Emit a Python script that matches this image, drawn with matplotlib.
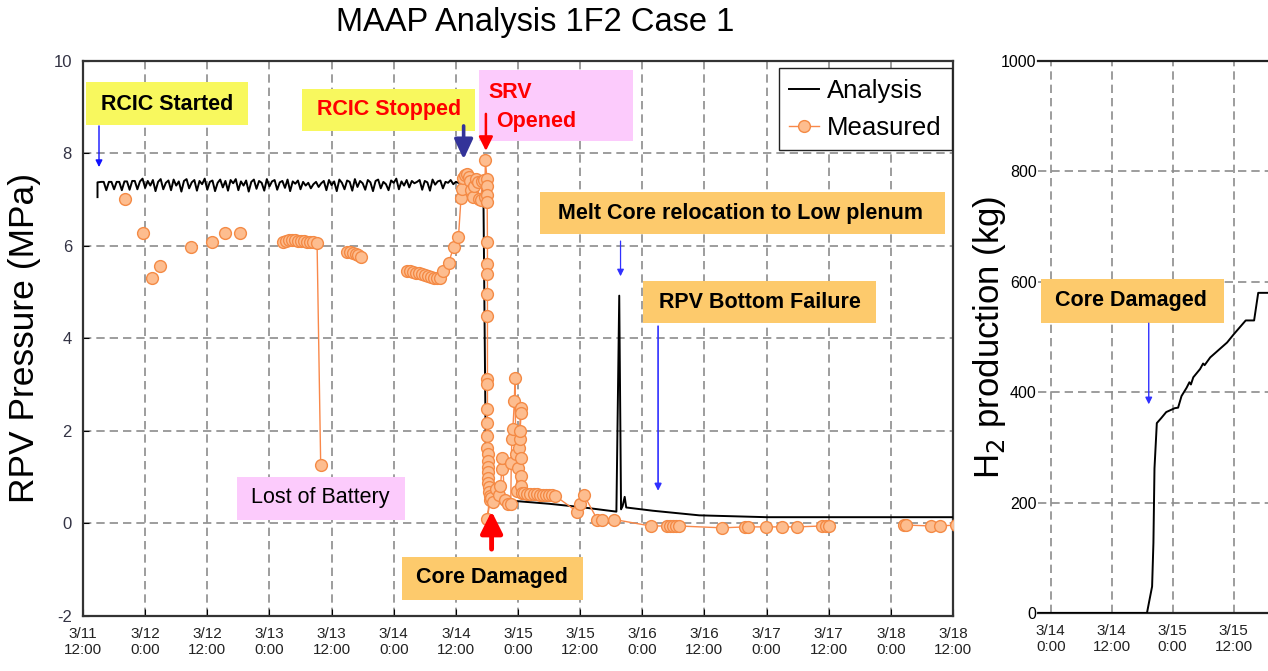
import matplotlib
matplotlib.use('Agg')
import matplotlib.pyplot as plt
import numpy as np
from matplotlib.patches import Rectangle
from matplotlib import font_manager

# ---------------- data ----------------
# main panel: hours after 3/11 12:00
main_xticks = [0, 12, 24, 36, 48, 60, 72, 84, 96, 108, 120, 132, 144, 156, 168]
main_xlabels = ['3/11\n12:00', '3/12\n0:00', '3/12\n12:00', '3/13\n0:00', '3/13\n12:00',
                '3/14\n0:00', '3/14\n12:00', '3/15\n0:00', '3/15\n12:00', '3/16\n0:00',
                '3/16\n12:00', '3/17\n0:00', '3/17\n12:00', '3/18\n0:00', '3/18\n12:00']
main_yticks = [-2, 0, 2, 4, 6, 8, 10]

# analysis: RCIC period (sampled every 0.5 h from 3.5 h)
rcic_vals = [7.38, 7.38, 7.20, 7.38, 7.38, 7.22, 7.38, 7.38, 7.20, 7.39, 7.39, 7.21, 7.40, 7.40, 7.22, 7.39,
             7.45, 7.25, 7.40, 7.30, 7.42, 7.18, 7.38, 7.44, 7.22, 7.36, 7.41, 7.20, 7.43, 7.30, 7.39, 7.17, 7.40, 7.44, 7.24, 7.37,
             7.42, 7.19, 7.40, 7.33, 7.45, 7.21, 7.38, 7.41, 7.18, 7.36, 7.43, 7.26, 7.40, 7.19, 7.42, 7.35, 7.44, 7.20, 7.39, 7.30,
             7.41, 7.17, 7.38, 7.43, 7.23, 7.40, 7.36, 7.19, 7.44, 7.28, 7.39, 7.42, 7.21, 7.37, 7.40, 7.25, 7.43, 7.18, 7.39, 7.34,
             7.41, 7.22, 7.38, 7.30, 7.36, 7.24, 7.33, 7.38, 7.27, 7.35, 7.40, 7.20, 7.42, 7.31, 7.39, 7.18, 7.43, 7.36, 7.22, 7.41,
             7.38, 7.19, 7.44, 7.27, 7.40, 7.35, 7.21, 7.42, 7.37, 7.18, 7.40, 7.43, 7.24, 7.38, 7.33, 7.20, 7.41, 7.36, 7.45, 7.22,
             7.39, 7.30, 7.42, 7.26, 7.40, 7.35, 7.38, 7.42, 7.21, 7.40, 7.37, 7.19, 7.43, 7.32, 7.39, 7.41, 7.24, 7.38, 7.36, 7.42,
             7.33, 7.38]
rcic_start_t = [2.8, 2.8]
rcic_start_v = [7.05, 7.37]
ana_tail_t = [72.5, 73.5, 75.0, 77.3, 77.8, 78.5, 80.0, 83.5, 90.0, 96.0, 103.0, 103.55, 103.9, 104.2, 104.6,
              104.9, 110.0, 119.0, 132.0, 150.0, 168.0]
ana_tail_v = [7.36, 7.38, 7.35, 7.38, 1.20, 0.70, 0.55, 0.48, 0.42, 0.35, 0.25, 4.92, 0.30, 0.37, 0.57,
              0.34, 0.27, 0.17, 0.13, 0.13, 0.13]

# measured (None = gap in the line)
measured = [
    (8.1, 7.00), None, (11.5, 6.27), None, (13.4, 5.30), None, (14.9, 5.57), None, (20.8, 5.98), None,
    (24.9, 6.07), None, (27.4, 6.28), None, (30.3, 6.28), None,
    (38.6, 6.07), (39.2, 6.10), (39.8, 6.12), (40.4, 6.12), (41.0, 6.12), (41.5, 6.11), (42.1, 6.10), (42.7, 6.10),
    (43.3, 6.09), (43.9, 6.08), (44.4, 6.07), (45.2, 6.05), (45.9, 1.26), None,
    (51.0, 5.86), (51.6, 5.86), (52.2, 5.84), (52.8, 5.82), (53.1, 5.80), (53.7, 5.76), None,
    (62.6, 5.46), (63.2, 5.45), (63.8, 5.43), (64.3, 5.41), (64.9, 5.40), (65.5, 5.38), (66.1, 5.37), (66.7, 5.35),
    (67.2, 5.33), (67.8, 5.31), (68.4, 5.30), (69.0, 5.30), (69.6, 5.45), (70.6, 5.63), (71.6, 5.98), (72.5, 6.18),
    (73.0, 7.04), (73.2, 7.22), (73.4, 7.46), (73.8, 7.53),
    (74.2, 7.55), (74.5, 7.48), (74.8, 7.40), (75.0, 7.20), (75.3, 7.05), (75.6, 7.30), (75.9, 7.45), (76.2, 7.38),
    (76.5, 7.02), (76.8, 6.98), (77.1, 7.40), (77.4, 7.43), (77.6, 7.05), (77.7, 7.85),
    (78.0, 7.45), (78.0, 7.30), (78.05, 7.10), (78.05, 6.95), (78.1, 6.07), (78.1, 5.61), (78.1, 5.38), (78.1, 4.95),
    (78.1, 4.48), (78.1, 3.11), (78.1, 3.00), (78.1, 2.46), (78.1, 2.17), (78.1, 1.89), (78.1, 1.63), (78.15, 1.49),
    (78.2, 1.35), (78.2, 1.22), (78.25, 1.10), (78.3, 0.98), (78.3, 0.88), (78.35, 0.78), (78.4, 0.68), (78.5, 0.58),
    (78.1, 0.10), (78.6, 0.50),
    (78.8, 0.55), (79.2, 0.45), (79.7, 0.75), (80.3, 0.62), (80.6, 0.80), (80.9, 1.17), (81.0, 1.42), (81.4, 0.50),
    (82.0, 0.42), (82.6, 0.41),
    (82.7, 1.30), (82.8, 1.81), (83.0, 2.03), (83.3, 2.64), (83.4, 3.13), (83.6, 1.50), (83.8, 0.70), (84.0, 1.20),
    (84.2, 1.63), (84.3, 1.81), (84.5, 2.50), (84.6, 2.39), (84.4, 1.99), (84.6, 1.42), (84.6, 1.02), (84.5, 0.80),
    (84.7, 0.66),
    (85.2, 0.65), (85.8, 0.64), (86.4, 0.64), (87.0, 0.63), (87.6, 0.63), (88.2, 0.62), (88.8, 0.62), (89.4, 0.61),
    (90.0, 0.60), (90.6, 0.60), (91.2, 0.59),
    (95.4, 0.25), (95.9, 0.41), (96.8, 0.60), (99.3, 0.08), (100.2, 0.08), (102.6, 0.08),
    (109.6, -0.06), (112.8, -0.06), (113.4, -0.06), (114.0, -0.06), (114.6, -0.06), (115.0, -0.06), (123.4, -0.10),
    (127.9, -0.08), (128.5, -0.08), (131.8, -0.08), (135.0, -0.08), (137.9, -0.08), (142.7, -0.06), (143.4, -0.06),
    (144.0, -0.06), None,
    (158.5, -0.04), (159.0, -0.04), (163.7, -0.06), (165.5, -0.06), (168.5, -0.04),
]

# right panel: hours after 3/14 0:00
h2_xticks = [0, 12, 24, 36]
h2_xlabels = ['3/14\n0:00', '3/14\n12:00', '3/15\n0:00', '3/15\n12:00']
h2_yticks = [0, 200, 400, 600, 800, 1000]
h2_t = [-2.5, 18.95, 19.43, 19.96, 20.22, 20.43, 20.89, 21.75, 22.74, 24.41, 25.08, 25.75, 26.75, 27.3,
        27.6, 28.07, 29.41, 30.0, 30.3, 31.4, 34.72, 36.04, 38.39, 40.04, 40.85, 46.0]
h2_v = [0, 0, 23, 48, 127, 262, 344, 353, 364, 371, 372, 393, 408, 418,
        414, 427, 442, 452, 449, 463, 490, 505, 530, 530, 580, 580]

# ---------------- figure ----------------
W, H = 1268, 671
fig = plt.figure(figsize=(W / 100, H / 100), dpi=100)
plt.rcParams['font.family'] = ['Liberation Sans', 'DejaVu Sans']

names = {f.name for f in font_manager.fontManager.ttflist}
if 'Liberation Sans Narrow' in names:
    tick_font = dict(family='Liberation Sans Narrow', size=12.5)
else:
    tick_font = dict(family='Liberation Sans', size=11)

grid_kw = dict(color='#8c8c8c', linestyle=(0, (5, 3)), linewidth=1.2)

# main axes
ax = fig.add_axes([83 / W, (H - 615.7) / H, (953 - 83) / W, (615.7 - 60.7) / H])
ax.set_xlim(0, 168)
ax.set_ylim(-2, 10)

ana_t = rcic_start_t + list(3.5 + 0.5 * np.arange(len(rcic_vals))) + ana_tail_t
ana_v = rcic_start_v + rcic_vals + ana_tail_v
l_ana, = ax.plot(ana_t, ana_v, color='black', lw=1.4, zorder=3, label='Analysis')

mt = [p[0] if p else np.nan for p in measured]
mv = [p[1] if p else np.nan for p in measured]
l_meas, = ax.plot(mt, mv, '-o', color='#F9884A', lw=1.0, ms=8.5, mfc='#FDBD8F', mec='#F48A45',
                  mew=1.0, zorder=4, label='Measured')

ax.set_xticks(main_xticks)
ax.set_xticklabels(main_xlabels, fontdict=tick_font, color='#222222')
ax.set_yticks(main_yticks)
ax.set_yticklabels([str(v) for v in main_yticks], fontsize=12, color='#333344')
ax.tick_params(axis='x', direction='in', length=5, pad=8)
ax.tick_params(axis='y', direction='in', length=4, pad=8)
ax.grid(True, **grid_kw)
for s in ax.spines.values():
    s.set_linewidth(1.6)
    s.set_color('#333333')
ax.set_ylabel('RPV Pressure (MPa)', fontsize=25.5, va='center')
ax.yaxis.set_label_coords((25 - 83) / 870, 0.5)

leg = ax.legend(handles=[l_ana, l_meas], loc='upper right', bbox_to_anchor=(952 / W, 1 - 68 / H),
                bbox_transform=fig.transFigure, borderaxespad=0, fontsize=18.5, frameon=True,
                fancybox=False, edgecolor='#222222', framealpha=1, handlelength=1.15,
                handletextpad=0.3, labelspacing=0.5, borderpad=0.42)
leg.get_frame().set_linewidth(1.0)
leg.set_zorder(10)

# right axes
ax2 = fig.add_axes([1038 / W, (H - 613) / H, 317.5 / W, (613 - 61) / H])
ax2.set_xlim(-2.5, 60)
ax2.set_ylim(0, 1000)
ax2.plot(h2_t, h2_v, color='black', lw=1.4, zorder=3)
ax2.set_xticks(h2_xticks)
ax2.set_xticklabels(h2_xlabels, fontdict=tick_font, color='#222222')
ax2.set_yticks(h2_yticks)
ax2.set_yticklabels([str(v) for v in h2_yticks], fontsize=11.5, color='black')
ax2.tick_params(axis='x', direction='in', length=0, pad=8)
ax2.tick_params(axis='y', length=0, pad=1)
ax2.grid(True, **grid_kw)
ax2.spines['left'].set_visible(False)
ax2.spines['right'].set_visible(False)
for k in ('top', 'bottom'):
    ax2.spines[k].set_linewidth(1.6)
    ax2.spines[k].set_color('#222222')
ax2.set_ylabel('H$_2$ production (kg)', fontsize=25, va='center')
ax2.yaxis.set_label_coords((990 - 1038) / 317.5, 0.5)

# title
fig.text(535 / W, 1 - 22 / H, 'MAAP Analysis 1F2 Case 1', ha='center', va='center', fontsize=23.5)

# ---------------- annotations ----------------
YELLOW, ORANGE, PINK = '#F8F85E', '#FDCA6C', '#FCCBFC'


def box(a, x0, y0, x1, y1, color):
    a.add_artist(Rectangle((x0 / W, 1 - y1 / H), (x1 - x0) / W, (y1 - y0) / H,
                           transform=fig.transFigure, facecolor=color, edgecolor='none',
                           zorder=6, clip_on=False))


def label(a, x, y, s, color='black', weight='bold', ha='center'):
    a.text(x / W, 1 - y / H, s, ha=ha, va='center', fontsize=15.5, color=color,
           fontweight=weight, zorder=7, transform=fig.transFigure, clip_on=False)


def arrow(a, x, y0, y1, color, lw, ms, hl=0.5, hw=0.25):
    a.annotate('', xy=(x, y1), xytext=(x, y0),
               arrowprops=dict(arrowstyle='-|>,head_length=%s,head_width=%s' % (hl, hw),
                               color=color, lw=lw, shrinkA=0, shrinkB=0, mutation_scale=ms),
               zorder=8)


box(ax, 86, 82, 248, 125, YELLOW)
label(ax, 167, 104, 'RCIC Started')
box(ax, 302, 89, 475, 131, YELLOW)
label(ax, 389, 110, 'RCIC Stopped', color='#FF0000')
box(ax, 479, 70, 633, 141, PINK)
label(ax, 488, 92, 'SRV', color='#FF0000', ha='left')
label(ax, 496, 121, 'Opened', color='#FF0000', ha='left')
box(ax, 540, 192, 945, 234, ORANGE)
label(ax, 741, 213, 'Melt Core relocation to Low plenum')
box(ax, 643, 281, 876, 323, ORANGE)
label(ax, 760, 302, 'RPV Bottom Failure')
box(ax, 237, 477, 405, 520, PINK)
label(ax, 320, 498, 'Lost of Battery', weight='normal')
box(ax, 402, 557, 583, 600, ORANGE)
label(ax, 492, 578, 'Core Damaged')
box(ax2, 1041, 279, 1224, 323, ORANGE)
label(ax2, 1131, 300, 'Core Damaged')

arrow(ax, 3.09, 8.59, 7.70, '#1010FF', 1.0, 8)
arrow(ax, 73.5, 8.59, 7.87, '#333399', 2.6, 20, hl=0.6, hw=0.28)
arrow(ax, 77.8, 8.85, 8.05, '#FF0000', 1.8, 14, hl=0.6, hw=0.3)
arrow(ax, 103.8, 6.10, 5.34, '#3030FF', 0.9, 8)
arrow(ax, 111.05, 4.26, 0.70, '#3030FF', 1.2, 8)
arrow(ax, 78.9, -0.56, 0.26, '#FF0000', 3.5, 22, hl=0.6, hw=0.3)
arrow(ax2, 19.3, 525, 378, '#3030FF', 1.0, 8)

fig.savefig('out.png', dpi=100)
